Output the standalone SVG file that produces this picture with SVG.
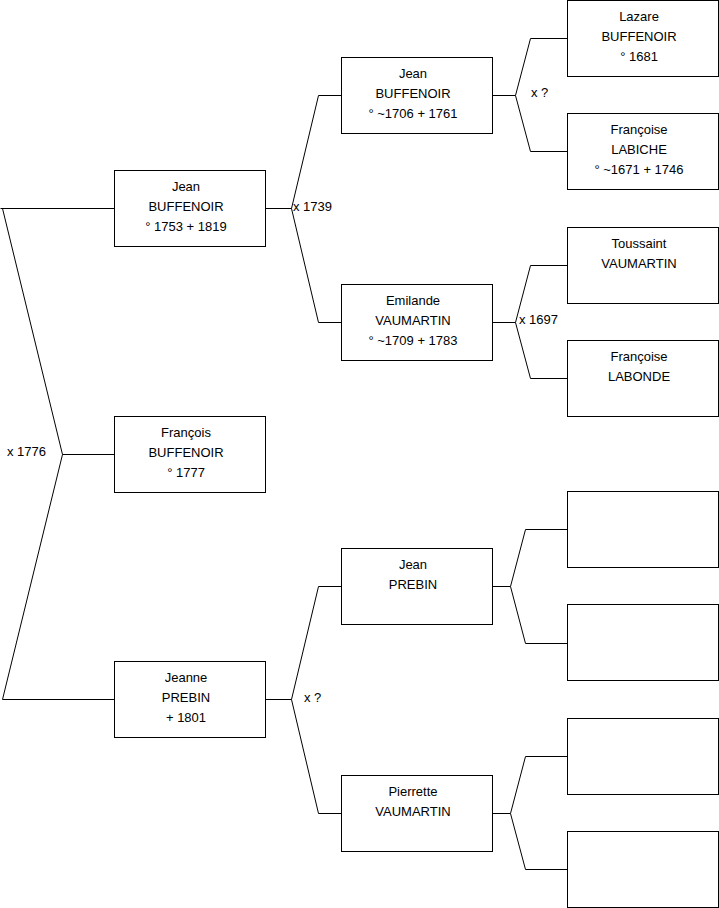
<svg xmlns="http://www.w3.org/2000/svg" width="719" height="908" viewBox="0 0 719 908">
<style>
rect{fill:#fff;stroke:#000;stroke-width:1}
.c path{fill:none;stroke:#000;stroke-width:1}
text{font-family:"Liberation Sans",Arial,sans-serif;font-size:13px;fill:#000}
.n text{text-anchor:middle}
</style>
<rect x="0" y="0" width="719" height="908" style="stroke:none"/>
<g class="c" id="connectors">
<path d="M0.5 208.5H114.5M2.5 208.5L62.5 454.5L2.5 699.5H114.5M62.5 454.5H114.5"/>
<path d="M265.5 208.5H291.5M341.5 95.5H318.5L291.5 208.5L318.5 322.5H341.5"/>
<path d="M265.5 699.5H291.5M341.5 586.5H318.5L291.5 699.5L318.5 813.5H341.5"/>
<path d="M492.5 95.5H515.5M567.5 38.5H530.5L515.5 95.5L530.5 151.5H567.5"/>
<path d="M492.5 322.5H515.5M567.5 265.5H530.5L515.5 322.5L530.5 378.5H567.5"/>
<path d="M492.5 586.5H510.5M567.5 529.5H525.5L510.5 586.5L525.5 643.5H567.5"/>
<path d="M492.5 813.5H510.5M567.5 756.5H525.5L510.5 813.5L525.5 869.5H567.5"/>
<text x="7" y="456">x 1776</text>
<text x="293" y="211">x 1739</text>
<text x="304" y="702">x ?</text>
<text x="531" y="97">x ?</text>
<text x="519" y="324">x 1697</text>
</g>
<g class="n" id="n1"><rect x="114.5" y="170.5" width="151" height="76"/><text x="186" y="191">Jean</text><text x="186" y="211">BUFFENOIR</text><text x="186" y="231">° 1753 + 1819</text></g>
<g class="n" id="n2"><rect x="114.5" y="416.5" width="151" height="76"/><text x="186" y="437">François</text><text x="186" y="457">BUFFENOIR</text><text x="186" y="477">° 1777</text></g>
<g class="n" id="n3"><rect x="114.5" y="661.5" width="151" height="76"/><text x="186" y="682">Jeanne</text><text x="186" y="702">PREBIN</text><text x="186" y="722">+ 1801</text></g>
<g class="n" id="n4"><rect x="341.5" y="57.5" width="151" height="76"/><text x="413" y="78">Jean</text><text x="413" y="98">BUFFENOIR</text><text x="413" y="118">° ~1706 + 1761</text></g>
<g class="n" id="n5"><rect x="341.5" y="284.5" width="151" height="76"/><text x="413" y="305">Emilande</text><text x="413" y="325">VAUMARTIN</text><text x="413" y="345">° ~1709 + 1783</text></g>
<g class="n" id="n6"><rect x="341.5" y="548.5" width="151" height="76"/><text x="413" y="569">Jean</text><text x="413" y="589">PREBIN</text></g>
<g class="n" id="n7"><rect x="341.5" y="775.5" width="151" height="76"/><text x="413" y="796">Pierrette</text><text x="413" y="816">VAUMARTIN</text></g>
<g class="n" id="n8"><rect x="567.5" y="0.5" width="151" height="76"/><text x="639" y="21">Lazare</text><text x="639" y="41">BUFFENOIR</text><text x="639" y="61">° 1681</text></g>
<g class="n" id="n9"><rect x="567.5" y="113.5" width="151" height="76"/><text x="639" y="134">Françoise</text><text x="639" y="154">LABICHE</text><text x="639" y="174">° ~1671 + 1746</text></g>
<g class="n" id="n10"><rect x="567.5" y="227.5" width="151" height="76"/><text x="639" y="248">Toussaint</text><text x="639" y="268">VAUMARTIN</text></g>
<g class="n" id="n11"><rect x="567.5" y="340.5" width="151" height="76"/><text x="639" y="361">Françoise</text><text x="639" y="381">LABONDE</text></g>
<g class="n" id="n12"><rect x="567.5" y="491.5" width="151" height="76"/></g>
<g class="n" id="n13"><rect x="567.5" y="604.5" width="151" height="76"/></g>
<g class="n" id="n14"><rect x="567.5" y="718.5" width="151" height="76"/></g>
<g class="n" id="n15"><rect x="567.5" y="831.5" width="151" height="76"/></g>
</svg>
